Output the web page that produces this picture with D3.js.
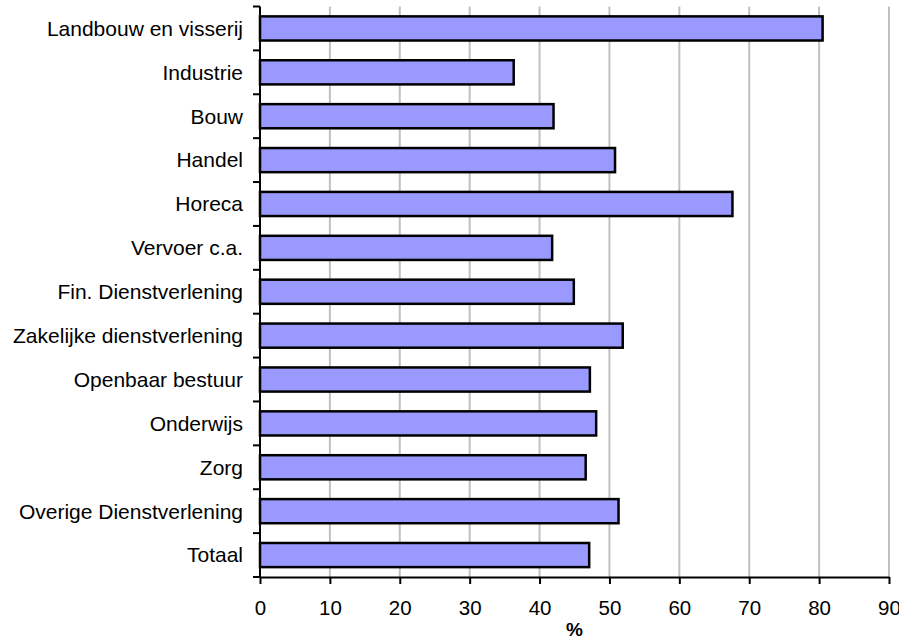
<!DOCTYPE html>
<html>
<head>
<meta charset="utf-8">
<script src="https://cdn.jsdelivr.net/npm/d3@7"></script>
<style>
  body { margin: 0; background: #fff; }
  text { font-family: Arial, "Liberation Sans", sans-serif; }
</style>
</head>
<body>
<svg id="chart" width="899" height="639"></svg>
<script>
// Sectors and their share (%)
var sectors = ["Landbouw en visserij", "Industrie", "Bouw", "Handel", "Horeca", "Vervoer c.a.",
  "Fin. Dienstverlening", "Zakelijke dienstverlening", "Openbaar bestuur", "Onderwijs",
  "Zorg", "Overige Dienstverlening", "Totaal"];
var values = [80.5, 36.3, 42.0, 50.8, 67.6, 41.8, 44.9, 51.9, 47.2, 48.1, 46.6, 51.3, 47.1];
var xTicks = [0, 10, 20, 30, 40, 50, 60, 70, 80, 90];
var xLabel = "%";

var data = sectors.map(function(s, i) { return { name: s, value: values[i] }; });

var svg = d3.select("#chart");
var margin = { left: 260, top: 6.5, right: 10, bottom: 62 };
var width = 889 - margin.left;
var height = 577 - margin.top;

var g = svg.append("g")
  .attr("transform", "translate(" + margin.left + "," + margin.top + ")");

var x = d3.scaleLinear().domain([0, 90]).range([0, width]);
var y = d3.scaleBand().domain(sectors).range([0, height]).paddingInner(0.45).paddingOuter(0.225);

// vertical gridlines
g.selectAll(".grid")
  .data(xTicks.slice(1))
  .enter().append("line")
  .attr("x1", function(d) { return x(d); })
  .attr("x2", function(d) { return x(d); })
  .attr("y1", 0)
  .attr("y2", height)
  .attr("stroke", "#c0c0c0")
  .attr("stroke-width", 2);

// bars
g.selectAll(".bar")
  .data(data)
  .enter().append("rect")
  .attr("x", 0)
  .attr("y", function(d) { return y(d.name); })
  .attr("width", function(d) { return x(d.value); })
  .attr("height", y.bandwidth())
  .attr("fill", "#9999ff")
  .attr("stroke", "#000")
  .attr("stroke-width", 2.5);

// x axis
var xAxis = g.append("g")
  .attr("transform", "translate(0," + height + ")")
  .call(d3.axisBottom(x).tickValues(xTicks).tickSize(7).tickSizeOuter(0).tickPadding(16));
xAxis.selectAll("line, path").attr("stroke", "#000").attr("stroke-width", 2);
xAxis.selectAll("text").attr("font-size", 20.5).attr("fill", "#000");

// y axis with boundary ticks between categories
var yAxis = g.append("g");
yAxis.append("line")
  .attr("x1", 0).attr("x2", 0).attr("y1", 0).attr("y2", height)
  .attr("stroke", "#000").attr("stroke-width", 2);
var step = height / sectors.length;
yAxis.selectAll(".ytick")
  .data(d3.range(sectors.length + 1))
  .enter().append("line")
  .attr("x1", -7).attr("x2", 0)
  .attr("y1", function(i) { return i * step; })
  .attr("y2", function(i) { return i * step; })
  .attr("stroke", "#000").attr("stroke-width", 2);
yAxis.selectAll(".ylab")
  .data(sectors)
  .enter().append("text")
  .attr("x", -17)
  .attr("y", function(d) { return y(d) + y.bandwidth() / 2; })
  .attr("dy", "0.35em")
  .attr("text-anchor", "end")
  .attr("font-size", 21)
  .attr("fill", "#000")
  .text(function(d) { return d; });

// axis title
svg.append("text")
  .attr("x", margin.left + x(45))
  .attr("y", 636)
  .attr("text-anchor", "middle")
  .attr("font-size", 19)
  .attr("font-weight", "bold")
  .text(xLabel);
</script>
</body>
</html>
